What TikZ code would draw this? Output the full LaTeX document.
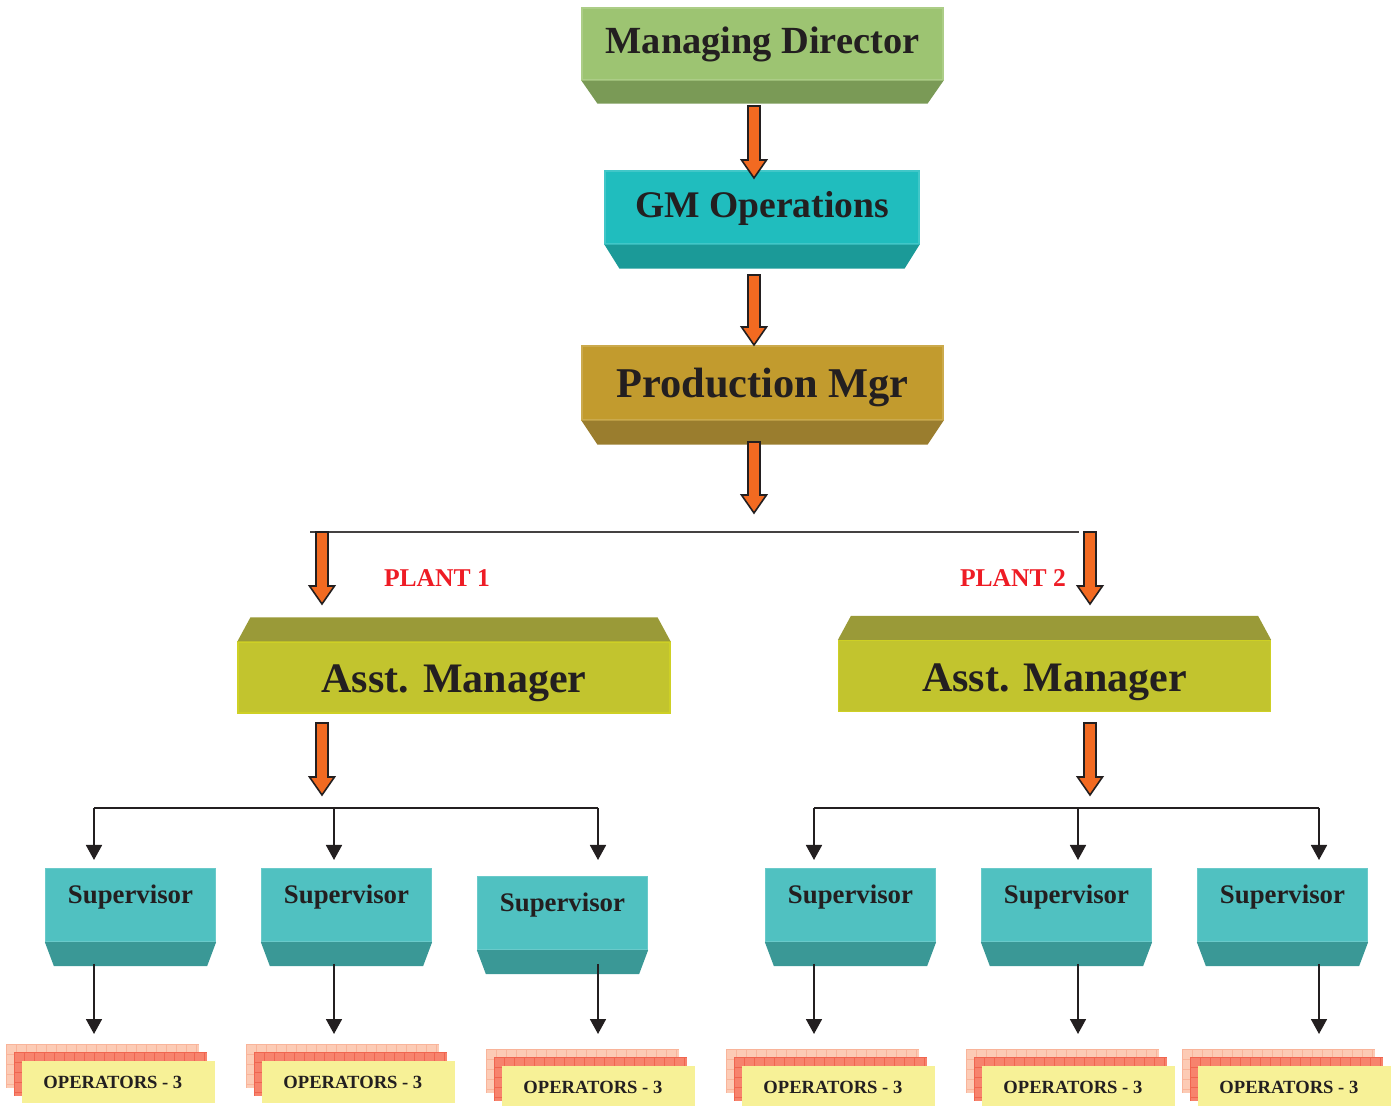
\documentclass[tikz,border=0pt]{standalone}
\usepackage{fontspec}
\setmainfont{Liberation Serif}
\usetikzlibrary{calc,arrows.meta}

\definecolor{ink}{HTML}{231F20}
\definecolor{mdface}{HTML}{9DC472}
\definecolor{mdbev}{HTML}{7A9A56}
\definecolor{gmface}{HTML}{20BDBE}
\definecolor{gmbev}{HTML}{1B9A98}
\definecolor{pmface}{HTML}{C29B2E}
\definecolor{pmbev}{HTML}{9A7D2E}
\definecolor{amface}{HTML}{C2C42E}
\definecolor{ambev}{HTML}{9A9A38}
\definecolor{supface}{HTML}{50C1C1}
\definecolor{supbev}{HTML}{3A9896}
\definecolor{arrowfill}{HTML}{F26A21}
\definecolor{plantred}{HTML}{EE1C25}
\definecolor{opyellow}{HTML}{F7F197}
\definecolor{oppale}{HTML}{FCCBB5}
\definecolor{oppalegrid}{HTML}{F9B49A}
\definecolor{opred}{HTML}{F7836D}
\definecolor{opredgrid}{HTML}{F06550}

\tikzset{
  box/.style={rectangle, inner sep=0pt, text=ink, font=\bfseries},
  mdbox/.style={box, fill=mdface, draw=mdface!85!white, line width=0.6pt,
    minimum width=180.5pt, minimum height=36pt, font=\bfseries\fontsize{19.2}{22}\selectfont},
  gmbox/.style={box, fill=gmface, draw=gmface!85!white, line width=0.6pt,
    minimum width=157pt, minimum height=36.5pt, text height=10.5pt, text depth=0pt,
    font=\bfseries\fontsize{18.8}{22}\selectfont},
  pmbox/.style={box, fill=pmface, draw=pmface!85!white, line width=0.6pt,
    minimum width=180.5pt, minimum height=37pt, text height=14.5pt, text depth=0pt,
    font=\bfseries\fontsize{21.2}{24}\selectfont},
  ambox/.style={box, fill=amface, draw=amface!80!yellow, line width=0.6pt,
    minimum width=216pt, minimum height=35.5pt, text height=15.5pt, text depth=0pt,
    font=\bfseries\fontsize{21}{24}\selectfont},
  supbox/.style={box, fill=supface, draw=supface!85!white, line width=0.6pt,
    minimum width=85pt, minimum height=36.5pt},
  suptext/.style={text=ink, inner sep=0pt, font=\bfseries\fontsize{13.4}{16}\selectfont},
  plant/.style={text=plantred, inner sep=0pt, font=\bfseries\fontsize{12.8}{15}\selectfont},
  opback/.style={rectangle, inner sep=0pt, fill=oppale, minimum width=96.5pt, minimum height=22pt},
  opmid/.style={rectangle, inner sep=0pt, fill=opred, minimum width=96.5pt, minimum height=22pt},
  opfront/.style={rectangle, inner sep=0pt, fill=opyellow, text=ink,
    minimum width=96.5pt, minimum height=21pt, font=\bfseries\fontsize{9.3}{11}\selectfont},
  barrow/.style={fill=arrowfill, draw=ink, line width=0.8pt, line join=miter},
  tarrow/.style={draw=ink, line width=0.9pt, -{Triangle[width=8pt,length=7.5pt]}},
  rule/.style={draw=ink!85, line width=1pt},
}

% orange block arrow from a start point down to its tip
\newcommand\blockarrow[2]{%
  \draw[barrow] let \p1=(#1), \p2=(#2) in
    (\x1-3pt,\y1) -- (\x1+3pt,\y1) -- (\x1+3pt,\y2+9pt) -- (\x1+6.25pt,\y2+9pt)
    -- (\x1,\y2) -- (\x1-6.25pt,\y2+9pt) -- (\x1-3pt,\y2+9pt) -- cycle;}

% darker slanted face under a box
\newcommand\botbevel[4]{%
  \fill[#4] (#1.south west) -- (#1.south east) -- ++(-#2,-#3)
    -- ($(#1.south west)+(#2,-#3)$) -- cycle;}

% darker slanted face above a box
\newcommand\topbevel[4]{%
  \fill[#4] (#1.north west) -- ($(#1.north west)+(#2,#3)$)
    -- ($(#1.north east)+(-#2,#3)$) -- (#1.north east) -- cycle;}

% supervisor block: name, centre x, top y
\newcommand\supervisor[3]{%
  \node[supbox, anchor=north] (#1) at (#2,#3) {};
  \botbevel{#1}{4.5pt}{12pt}{supbev}
  \node[suptext] (#1t) at ($(#1.north)+(0,-14.5pt)$) {Supervisor};}

% stacked operator cards: name, left x, top y of the back card
\newcommand\opstack[3]{%
  \node[opback, anchor=north west] (#1b) at (#2,#3) {};
  \begin{scope}
    \clip (#1b.north west) rectangle (#1b.south east);
    \foreach \k in {0,...,20}
      \draw[oppalegrid, line width=0.3pt] ($(#1b.north west)+(\k*5pt,0)$) -- ++(0,-22pt);
    \foreach \k in {0,...,4}
      \draw[oppalegrid, line width=0.3pt] ($(#1b.north west)+(0,-\k*5pt)$) -- ++(96.5pt,0);
  \end{scope}
  \node[opmid, anchor=north west] (#1m) at ($(#1b.north west)+(4pt,-4pt)$) {};
  \begin{scope}
    \clip (#1m.north west) rectangle (#1m.south east);
    \foreach \k in {0,...,20}
      \draw[opredgrid, line width=0.3pt] ($(#1m.north west)+(\k*5pt,0)$) -- ++(0,-22pt);
    \foreach \k in {0,...,4}
      \draw[opredgrid, line width=0.3pt] ($(#1m.north west)+(0,-\k*5pt)$) -- ++(96.5pt,0);
  \end{scope}
  \node[opfront, anchor=north west] (#1) at ($(#1b.north west)+(8pt,-8.5pt)$) {OPERATORS - 3\kern6pt};}

\begin{document}
\begin{tikzpicture}[x=0.5pt, y=-0.5pt]
\useasboundingbox (0,0) rectangle (1399,1106);

% top of the chain
\node[mdbox] (md) at (762.5,44) {Managing Director};
\botbevel{md}{8pt}{11.5pt}{mdbev}
\node[gmbox] (gm) at (762,207.5) {GM Operations};
\botbevel{gm}{7.5pt}{12pt}{gmbev}
\node[pmbox] (pm) at (762.5,383) {Production Mgr};
\botbevel{pm}{8pt}{12pt}{pmbev}

% assistant managers of the two plants
\node[ambox] (am1) at (454,677.5) {Asst. Manager};
\topbevel{am1}{6.5pt}{12pt}{ambev}
\node[ambox] (am2) at (1054.5,676) {Asst. Manager};
\topbevel{am2}{6.5pt}{12pt}{ambev}

\node[plant] (p1) at (437,578) {PLANT 1};
\node[plant] (p2) at (1013,578) {PLANT 2};

% supervisors
\supervisor{s1}{130.5}{868}
\supervisor{s2}{346.5}{868}
\supervisor{s3}{562.5}{876}
\supervisor{s4}{850.5}{868}
\supervisor{s5}{1066.5}{868}
\supervisor{s6}{1282.5}{868}

% operators
\opstack{o1}{6}{1044}
\opstack{o2}{246}{1044}
\opstack{o3}{486}{1049}
\opstack{o4}{726}{1049}
\opstack{o5}{966}{1049}
\opstack{o6}{1182}{1049}

% orange connectors down the chain
\coordinate (a1s) at (754,106);  \coordinate (a1e) at (754,178);
\coordinate (a2s) at (754,275);  \coordinate (a2e) at (754,345);
\coordinate (a3s) at (754,442);  \coordinate (a3e) at (754,513);
\coordinate (a4s) at (322,532);  \coordinate (a4e) at (322,604);
\coordinate (a5s) at (1090,532); \coordinate (a5e) at (1090,604);
\coordinate (a6s) at (322,723);  \coordinate (a6e) at (322,795);
\coordinate (a7s) at (1090,723); \coordinate (a7e) at (1090,795);

% split line to the two plants
\coordinate (hl) at (310,532);
\coordinate (hr) at (1079,532);
\draw[rule] (hl) -- (hr);

\blockarrow{a1s}{a1e}
\blockarrow{a2s}{a2e}
\blockarrow{a3s}{a3e}
\blockarrow{a4s}{a4e}
\blockarrow{a5s}{a5e}
\blockarrow{a6s}{a6e}
\blockarrow{a7s}{a7e}

% branch lines to the supervisors
\coordinate (j1) at (94,808);
\coordinate (j2) at (334,808);
\coordinate (j3) at (598,808);
\coordinate (j4) at (814,808);
\coordinate (j5) at (1078,808);
\coordinate (j6) at (1319,808);
\coordinate (lowrow) at (0,964);

\draw[ink, line width=0.9pt] (j1) -- (j3);
\draw[ink, line width=0.9pt] (j4) -- (j6);
\draw[tarrow, shorten >=4pt] (j1) -- (j1 |- s1.north);
\draw[tarrow, shorten >=4pt] (j2) -- (j2 |- s2.north);
\draw[tarrow, shorten >=8pt] (j3) -- (j3 |- s3.north);
\draw[tarrow, shorten >=4pt] (j4) -- (j4 |- s4.north);
\draw[tarrow, shorten >=4pt] (j5) -- (j5 |- s5.north);
\draw[tarrow, shorten >=4pt] (j6) -- (j6 |- s6.north);

% supervisor to operator connectors
\draw[tarrow, shorten >=5pt] (j1 |- lowrow) -- (j1 |- o1b.north);
\draw[tarrow, shorten >=5pt] (j2 |- lowrow) -- (j2 |- o2b.north);
\draw[tarrow, shorten >=7.5pt] (j3 |- lowrow) -- (j3 |- o3b.north);
\draw[tarrow, shorten >=7.5pt] (j4 |- lowrow) -- (j4 |- o4b.north);
\draw[tarrow, shorten >=7.5pt] (j5 |- lowrow) -- (j5 |- o5b.north);
\draw[tarrow, shorten >=7.5pt] (j6 |- lowrow) -- (j6 |- o6b.north);
\end{tikzpicture}
\end{document}
